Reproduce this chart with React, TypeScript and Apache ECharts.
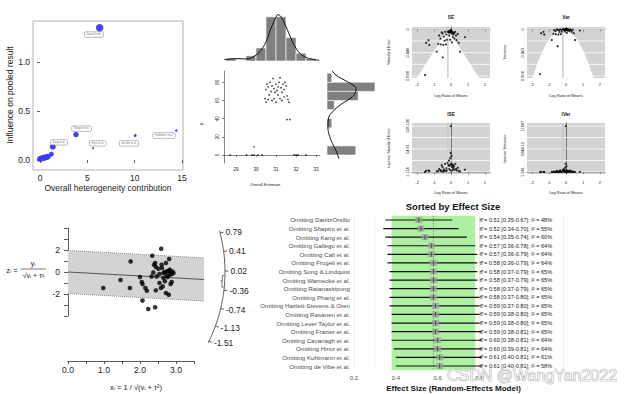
import React, { useEffect, useRef } from "react";
import * as echarts from "echarts";

const FONT = "'Liberation Sans', Arial, Helvetica, sans-serif";
const INK = "#222222";

// ---------- Panel 1: influence vs heterogeneity ----------
const baujatHet = [6.3, 3.8, 1.35, 1.2, 0.0, 0.12, 0.25, 0.4, 0.55, 0.7, 0.85, 5.6, 10.05, 14.4];
const baujatInfl = [1.35, 0.26, 0.135, 0.06, 0.01, 0.014, 0.018, 0.022, 0.026, 0.03, 0.035, 0.12, 0.25, 0.3];
const baujatWeight = [7.5, 5.5, 6, 5, 6, 6, 6, 6, 6, 6, 5.5, 2, 3, 2.5];
const baujatLabelHet = [5.7, 4.4, 2.0, 6.1, 9.4, 13.1];
const baujatLabelInfl = [1.28, 0.32, 0.18, 0.17, 0.17, 0.25];
const baujatLabelText = ["DanitzOrsillo", "Shapiro et al.", "Kang et al.", "Hintz et al.", "de Vibe et al.", "Kuhlmann et al."];
const baujatXTicks = [0, 5, 10, 15];
const baujatYTicks = [0, 0.5, 1.0];

// ---------- Panel 2: GOSH (estimate vs I²) ----------
const goshEst = [28.7, 29.53, 29.8, 29.9, 30.1, 30.3, 31.9, 32.0, 32.1, 32.5, 29.9, 31.55, 31.7,
  30.55, 30.6, 30.5, 30.45, 30.5, 30.7, 30.75, 30.8, 30.85, 30.9, 30.95, 30.9, 30.8, 31.0, 31.05, 31.1, 31.0, 31.15, 31.2,
  31.25, 31.3, 31.2, 31.35, 31.4, 31.45, 31.5, 31.55, 31.6, 31.65, 31.3, 30.65, 31.1, 30.6, 31.4];
const goshI2 = [0, 0, 0, 0, 0, 0, 0, 0, 0, 0, 9, 39, 39,
  78, 75, 72, 62, 58, 80, 70, 76, 84, 73, 69, 62, 60, 78, 71, 66, 58, 80, 85,
  74, 69, 62, 78, 72, 80, 76, 65, 61, 58, 60, 66, 75, 61, 64];
const goshXTicks = [29, 30, 31, 32, 33];
const goshYTicks = [0, 20, 40, 60, 80];
const estBinLo = [28.5, 29, 29.5, 30, 30.5, 31, 31.5, 32, 32.5];
const estBinHi = [29, 29.5, 30, 30.5, 31, 31.5, 32, 32.5, 33];
const estBinCount = [1, 0, 2, 5, 17, 17, 9, 3, 1];
const estDensX = [28.4, 28.5, 29.0, 29.5, 30.0, 30.25, 30.5, 30.75, 31.0, 31.1, 31.25, 31.5, 31.75, 32.0, 32.25, 32.5, 32.75, 33.0, 33.15];
const estDensY = [0.55, 0.64, 0.9, 0.8, 2.3, 4.2, 7.4, 12.6, 16.8, 17.8, 17.0, 13.2, 8.7, 4.9, 2.6, 1.4, 0.8, 0.4, 0.3];
const i2BinLo = [0, 30, 50, 60, 70, 80];
const i2BinHi = [10, 40, 60, 70, 80, 90];
const i2BinCount = [12, 2, 3, 13, 20, 2];
const i2DensI2 = [94, 88, 81.5, 77, 73, 68, 63, 55.6, 48, 40.7, 31.5, 20.4, 9.3, 1.9, -4];
const i2DensVal = [1.8, 3.75, 7.9, 10.8, 12.1, 11.7, 10.0, 5.8, 2.5, 0.7, 0.4, 1.1, 2.9, 4.2, 4.9];

// ---------- Panel 3: funnel plots ----------
const studyLRM = [-1.53, -1.47, -1.33, -1.28, -0.84, -0.49, 0.53, 0.82, 0.33,
  -0.75, -0.6, -0.45, -0.3, -0.7, -0.62, -0.5, -0.42, -0.35, -0.28,
  -0.2, -0.15, -0.1, -0.05, 0.0, 0.02, 0.05, 0.08, 0.1, 0.12,
  0.15, 0.2, 0.25, 0.3, 0.4, -0.25, -0.05, 0.05, -0.12, 0.0,
  0.03, -0.1, 0.18, -0.38, 0.45, -0.55, 0.1, -0.02, -0.08];
const studySE = [0.88, 0.26, 0.21, 0.3, 0.43, 0.54, 0.43, 0.15, 0.21,
  0.28, 0.29, 0.3, 0.29, 0.12, 0.18, 0.08, 0.14, 0.05, 0.1,
  0.045, 0.06, 0.12, 0.03, 0.00925, 0.05, 0.08, 0.055, 0.15, 0.06,
  0.1, 0.18, 0.05, 0.12, 0.09, 0.2, 0.2, 0.25, 0.036, 0.05,
  0.026, 0.06, 0.07, 0.22, 0.26, 0.06, 0.065, 0.022, 0.065];
const funnelCenter = -0.18;
const funnelXTicks = [-2, -1, 0, 1, 2];
const seTicks = [0, 0.449, 0.898];
const varTicks = [0, 0.403, 0.806];
const iseTicks = [1.114, 54.61, 108.106];
const ivarTicks = [1.241, 5844.12, 11687];

// ---------- Panel 4: radial (Galbraith) plot ----------
const radialX = [0.98, 1.46, 1.74, 1.72, 2.0, 2.05, 2.07, 2.15, 2.19, 2.07, 2.23, 2.42, 2.34, 2.39, 2.42, 2.32,
  2.37, 2.46, 2.44, 2.54, 2.59, 2.6, 2.61, 2.54, 2.65, 2.63, 2.58, 2.69, 2.72, 2.74, 2.74, 2.72,
  2.81, 2.79, 2.83, 2.85, 2.88, 2.9, 2.83, 2.8, 2.85, 2.88, 2.77, 2.69, 2.93, 2.65, 2.51, 2.44];
const radialZ = [-1.45, -0.73, 0.96, -1.45, -0.45, -0.91, -1.1, -1.45, -1.7, -2.6, -3.36, -3.21, 1.48, 0.66, 0.82, -0.4,
  -0.04, -0.4, -1.67, -1.0, 2.12, 0.66, 0.36, -0.18, -0.55, -1.31, -1.45, -0.85, 0.82, 0.05, -0.31, -1.91,
  1.18, 0.12, 0.21, -0.04, -0.18, 0.05, -0.25, -2.06, -1.09, -0.91, -0.45, 0.0, -0.1, -0.1, 0.3, 0.45];
const radialSlope = -0.18;
const radialCI = [-0.3, -0.07];
const radialArcTicks = [0.79, 0.41, 0.02, -0.36, -0.74, -1.13, -1.51];
const radialBandEnd = 3.78;

// ---------- Panel 5: leave-one-out forest ----------
const forestStudy = ["DanitzOrsillo", "Shapiro et al.", "Kang et al.", "Gallego et al.", "Call et al.", "Frogeli et al.",
  "Song & Lindquist", "Warnecke et al.", "Ratanasiripong", "Phang et al.", "Hazlett-Stevens & Oren", "Rasanen et al.",
  "Lever Taylor et al.", "Frazier et al.", "Cavanagh et al.", "Hintz et al.", "Kuhlmann et al.", "de Vibe et al."];
const forestEst = [0.51, 0.52, 0.54, 0.57, 0.57, 0.58, 0.58, 0.58, 0.58, 0.58, 0.59, 0.59, 0.59, 0.59, 0.6, 0.6, 0.61, 0.61];
const forestLo = [0.35, 0.34, 0.35, 0.36, 0.36, 0.36, 0.37, 0.37, 0.37, 0.37, 0.37, 0.38, 0.38, 0.38, 0.38, 0.39, 0.4, 0.4];
const forestHi = [0.67, 0.7, 0.74, 0.78, 0.79, 0.79, 0.79, 0.79, 0.79, 0.8, 0.8, 0.8, 0.8, 0.81, 0.81, 0.81, 0.81, 0.81];
const forestI2 = [48, 55, 60, 64, 64, 64, 65, 65, 65, 65, 65, 65, 65, 65, 64, 64, 61, 58];
const forestPooled = 0.58;
const forestBand = [0.38, 0.78];

function lin(vA: number, pA: number, vB: number, pB: number, p: number) {
  return vA + ((p - pA) * (vB - vA)) / (pB - pA);
}
function quarters(t: number[]) {
  return [t[0], (t[0] + t[1]) / 2, t[1], (t[1] + t[2]) / 2, t[2]];
}

function axisR(gridIndex: number, min: number, max: number, ticks: number[] | null, o: any = {}) {
  return {
    gridIndex, type: "value", min, max, inverse: !!o.inverse, interval: o.interval,
    axisLine: { show: o.line !== false, lineStyle: { color: "#333", width: o.lineWidth || 0.6 } },
    axisTick: { show: true, customValues: ticks || undefined, length: o.tickLen || 2, lineStyle: { color: "#333", width: o.lineWidth || 0.6 } },
    axisLabel: {
      customValues: ticks || undefined, fontSize: o.fontSize || 4, color: INK, fontFamily: FONT,
      margin: o.margin || 3, rotate: o.rotate || 0, formatter: o.fmt,
    },
    splitLine: { show: false },
  };
}
function axisHidden(gridIndex: number, min: number, max: number) {
  return { gridIndex, type: "value", min, max, show: false, splitLine: { show: false } };
}

function txt(x: number, y: number, text: string, size: number, o: any = {}) {
  return {
    type: "text", x, y, rotation: o.rotation || 0, silent: true, z: 100,
    style: {
      text, fontSize: size, fontFamily: FONT, fill: o.fill || INK, fontWeight: o.bold ? "bold" : "normal",
      align: o.align || "center", verticalAlign: "middle", stroke: o.stroke, lineWidth: o.lineWidth,
    },
  };
}

function funnelBg(idx: number, yMax: number, levels: number[], toY: (s: number) => number, seFrom: number, seTo: number, geometric: boolean) {
  return {
    type: "custom", xAxisIndex: idx, yAxisIndex: idx, silent: true, z: 1,
    data: [[0, toY(seFrom)]],
    renderItem: (params: any, api: any) => {
      const cs = params.coordSys;
      const children: any[] = [];
      levels.forEach((l) => {
        const p = api.coord([0, l]);
        children.push({ type: "line", shape: { x1: cs.x, y1: p[1], x2: cs.x + cs.width, y2: p[1] }, style: { stroke: "#ffffff", lineWidth: 0.8 } });
      });
      const n = 60;
      const left: number[][] = [];
      const right: number[][] = [];
      for (let i = 0; i <= n; i++) {
        const t = i / n;
        const se = geometric ? seFrom * Math.pow(seTo / seFrom, t) : seFrom + (seTo - seFrom) * t;
        const y = toY(se);
        left.push(api.coord([funnelCenter - 1.96 * se, y]));
        right.push(api.coord([funnelCenter + 1.96 * se, y]));
      }
      children.push({ type: "polygon", shape: { points: left.concat(right.reverse()) }, style: { fill: "#ffffff" } });
      const cx = api.coord([funnelCenter, toY(seFrom)])[0];
      children.push({ type: "line", shape: { x1: cx, y1: cs.y, x2: cx, y2: cs.y + cs.height }, style: { stroke: "#b5b5b5", lineWidth: 1 } });
      return { type: "group", children };
    },
  };
}

function buildOption() {
  const bxMin = lin(0, 40, 15, 182, 33), bxMax = lin(0, 40, 15, 182, 183);
  const byMin = lin(0, 160, 1, 62, 170), byMax = lin(0, 160, 1, 62, 21);
  const gxMin = lin(29, 236, 33, 316, 224), gxMax = lin(29, 236, 33, 316, 320);
  const gyMin = lin(0, 155, 80, 82.3, 163), gyMax = lin(0, 155, 80, 82.3, 71);
  const seMin = lin(0, 29.3, 0.898, 76, 27), seMax = lin(0, 29.3, 0.898, 76, 78);
  const vaMin = lin(0, 29.3, 0.806, 76, 27), vaMax = lin(0, 29.3, 0.806, 76, 78);
  const isMin = lin(1.114, 172, 108.106, 126, 174), isMax = lin(1.114, 172, 108.106, 126, 123);
  const ivMin = lin(1.241, 172, 11687, 126, 174), ivMax = lin(1.241, 172, 11687, 126, 123);

  const fx = (i: number) => axisR(i, -2.3, 2.3, funnelXTicks, { fontSize: 3.9, margin: i >= 6 ? 6 : 4.5 });
  const fy = (i: number, mn: number, mx: number, ticks: number[], inv: boolean) =>
    axisR(i, mn, mx, ticks, { inverse: inv, rotate: 90, fontSize: 3.9, margin: 3, fmt: (v: number) => String(v) });

  const grid = [
    { left: 33, top: 21, width: 150, height: 149, show: true, borderColor: "#a0a0a0", borderWidth: 0.8, backgroundColor: "transparent" },
    { left: 224, top: 71, width: 96, height: 92 },
    { left: 224, top: 9, width: 96, height: 52 },
    { left: 327, top: 71, width: 50.4, height: 92 },
    { left: 412, top: 27, width: 78, height: 51, show: true, backgroundColor: "#d3d3d3", borderWidth: 0 },
    { left: 527, top: 27, width: 78, height: 51, show: true, backgroundColor: "#d3d3d3", borderWidth: 0 },
    { left: 412, top: 123, width: 78, height: 51, show: true, backgroundColor: "#d3d3d3", borderWidth: 0 },
    { left: 527, top: 123, width: 78, height: 51, show: true, backgroundColor: "#d3d3d3", borderWidth: 0 },
    { left: 68, top: 226, width: 170, height: 126 },
    { left: 68, top: 228, width: 10, height: 88 },
    { left: 68, top: 320, width: 126, height: 41 },
    { left: 354, top: 215.7, width: 209, height: 154.6 },
  ].map((g) => ({ containLabel: false, ...g }));

  const xAxis: any[] = [
    axisR(0, bxMin, bxMax, baujatXTicks, { line: false, tickLen: 3, fontSize: 8.5, margin: 3, lineWidth: 0.8 }),
    axisR(1, gxMin, gxMax, goshXTicks, { fontSize: 4.5, margin: 4 }),
    axisHidden(2, gxMin, gxMax),
    axisHidden(3, 0, 21),
    fx(4), fx(5), fx(6), fx(7),
    axisHidden(8, 0, 170 / 36),
    axisHidden(9, 0, 1),
    axisR(10, 0, 3.5, null, { interval: 0.5, tickLen: 3, fontSize: 8.5, margin: 4, lineWidth: 0.8, fmt: (v: number) => (Math.abs(v - Math.round(v)) < 1e-9 ? v.toFixed(1) : "") }),
    {
      gridIndex: 11, type: "value", min: 0.2, max: 1.2, interval: 0.2,
      axisLine: { show: false }, axisTick: { show: false },
      axisLabel: { fontSize: 6, color: "#4d4d4d", fontFamily: FONT, margin: 5, formatter: (v: number) => (v > 1.05 ? "" : v.toFixed(1)) },
      splitLine: { show: true, lineStyle: { color: "#e4e4e4", width: 0.6 } },
      minorTick: { show: false, splitNumber: 2 },
      minorSplitLine: { show: true, lineStyle: { color: "#f2f2f2", width: 0.5 } },
    },
  ];
  const yAxis: any[] = [
    axisR(0, byMin, byMax, baujatYTicks, { line: false, tickLen: 3, fontSize: 8.5, margin: 3, lineWidth: 0.8, fmt: (v: number) => v.toFixed(1) }),
    axisR(1, gyMin, gyMax, goshYTicks, { rotate: 90, fontSize: 4.5, margin: 4 }),
    axisHidden(2, 0, 20),
    axisHidden(3, gyMin, gyMax),
    fy(4, seMin, seMax, seTicks, true),
    fy(5, vaMin, vaMax, varTicks, true),
    fy(6, isMin, isMax, iseTicks, false),
    fy(7, ivMin, ivMax, ivarTicks, false),
    axisHidden(8, -80 / 11, 46 / 11),
    axisR(9, -4, 4, null, { interval: 1, tickLen: 4, fontSize: 8.5, margin: 8, lineWidth: 0.8, fmt: (v: number) => (v === 2 || v === 0 || v === -2 ? String(v) : "") }),
    axisHidden(10, 0, 1),
    {
      gridIndex: 11, type: "category", inverse: true, data: forestStudy.map((s) => "Omitting " + s),
      axisLine: { show: false }, axisTick: { show: false }, splitLine: { show: false },
      axisLabel: { interval: 0, fontSize: 6.2, color: "#4d4d4d", fontFamily: FONT, margin: 4 },
    },
  ];

  const series: any[] = [];

  series.push({
    type: "scatter", xAxisIndex: 0, yAxisIndex: 0, silent: true, z: 3,
    data: baujatHet.map((x, i) => [x, baujatInfl[i], baujatWeight[i]]),
    symbolSize: (v: number[]) => v[2],
    itemStyle: { color: "#3a3af2", opacity: 0.95 },
  });
  series.push({
    type: "scatter", xAxisIndex: 0, yAxisIndex: 0, silent: true, z: 4, symbolSize: 0.01,
    data: baujatLabelHet.map((x, i) => ({ value: [x, baujatLabelInfl[i]], name: baujatLabelText[i] })),
    itemStyle: { color: "transparent" },
    label: {
      show: true, position: "inside", formatter: "{b}", fontSize: 2.6, color: "#444", fontFamily: FONT,
      backgroundColor: "#ffffff", borderColor: "#777", borderWidth: 0.5, padding: [1, 2], borderRadius: 1,
    },
  });

  series.push({
    type: "scatter", xAxisIndex: 1, yAxisIndex: 1, silent: true, symbolSize: 1.6,
    data: goshEst.map((x, i) => [x, goshI2[i]]), itemStyle: { color: "#000" },
  });
  series.push({
    type: "custom", xAxisIndex: 2, yAxisIndex: 2, silent: true,
    data: estBinLo.map((lo, i) => [lo, estBinHi[i], estBinCount[i]]),
    renderItem: (p: any, api: any) => {
      const a = api.coord([api.value(0), api.value(2)]);
      const b = api.coord([api.value(1), 0]);
      return { type: "rect", shape: { x: a[0], y: a[1], width: b[0] - a[0], height: b[1] - a[1] }, style: { fill: "#7f7f7f", stroke: "#ffffff", lineWidth: 0.6 } };
    },
  });
  series.push({
    type: "line", xAxisIndex: 2, yAxisIndex: 2, silent: true, smooth: true, showSymbol: false, z: 3,
    data: estDensX.map((x, i) => [x, estDensY[i]]), lineStyle: { color: "#111", width: 1 },
  });
  series.push({
    type: "custom", xAxisIndex: 3, yAxisIndex: 3, silent: true,
    data: i2BinLo.map((lo, i) => [lo, i2BinHi[i], i2BinCount[i]]),
    renderItem: (p: any, api: any) => {
      const a = api.coord([0, api.value(1)]);
      const b = api.coord([api.value(2), api.value(0)]);
      return { type: "rect", shape: { x: a[0], y: a[1], width: b[0] - a[0], height: b[1] - a[1] }, style: { fill: "#7f7f7f", stroke: "#ffffff", lineWidth: 0.6 } };
    },
  });
  series.push({
    type: "line", xAxisIndex: 3, yAxisIndex: 3, silent: true, smooth: true, showSymbol: false, z: 3,
    data: i2DensI2.map((y, i) => [i2DensVal[i], y]), lineStyle: { color: "#111", width: 1 },
  });

  series.push(funnelBg(4, seMax, quarters(seTicks), (s) => s, seMax, 0, false));
  series.push(funnelBg(5, vaMax, quarters(varTicks), (s) => s * s, Math.sqrt(vaMax), 0, false));
  series.push(funnelBg(6, isMax, quarters(iseTicks), (s) => 1 / s, 1 / iseTicks[0], 1 / isMax, true));
  series.push(funnelBg(7, ivMax, quarters(ivarTicks), (s) => 1 / (s * s), 1 / Math.sqrt(ivarTicks[0]), 1 / Math.sqrt(ivMax), true));
  const fPts = (i: number, f: (s: number) => number) => ({
    type: "scatter", xAxisIndex: i, yAxisIndex: i, silent: true, z: 3, symbolSize: 2.2,
    data: studyLRM.map((x, k) => [x, f(studySE[k])]), itemStyle: { color: "#000" },
  });
  series.push(fPts(4, (s) => s), fPts(5, (s) => s * s), fPts(6, (s) => 1 / s), fPts(7, (s) => 1 / (s * s)));

  series.push({
    type: "custom", xAxisIndex: 8, yAxisIndex: 8, silent: true, z: 1, data: [[0, 0]],
    renderItem: (p: any, api: any) => {
      const c = (x: number, y: number) => api.coord([x, y]);
      const e = radialBandEnd;
      const t0 = c(0, 1.96), t1 = c(e, radialSlope * e + 1.96), b1 = c(e, radialSlope * e - 1.96), b0 = c(0, -1.96);
      const m0 = c(0, 0), m1 = c(e, radialSlope * e);
      return {
        type: "group", children: [
          { type: "polygon", shape: { points: [t0, t1, b1, b0] }, style: { fill: "#d3d3d3" } },
          { type: "line", shape: { x1: t0[0], y1: t0[1], x2: t1[0], y2: t1[1] }, style: { stroke: "#8a8a8a", lineWidth: 1, lineDash: [1, 1] } },
          { type: "line", shape: { x1: b0[0], y1: b0[1], x2: b1[0], y2: b1[1] }, style: { stroke: "#8a8a8a", lineWidth: 1, lineDash: [1, 1] } },
          { type: "line", shape: { x1: m0[0], y1: m0[1], x2: m1[0], y2: m1[1] }, style: { stroke: "#555", lineWidth: 1 } },
        ],
      };
    },
  });
  series.push({
    type: "custom", xAxisIndex: 8, yAxisIndex: 8, silent: true, z: 2, data: [[0, 0]],
    renderItem: (p: any, api: any) => {
      const o = api.coord([0, 0]);
      const ux = api.coord([1, 0])[0] - o[0];
      const uy = o[1] - api.coord([0, 1])[1];
      const k = 1.06;
      const ang = (b: number) => Math.atan2(b * uy * k, ux);
      const R = 157;
      const P = (a: number, r: number) => [o[0] + r * Math.cos(a), o[1] - r * Math.sin(a)];
      const a0 = ang(0.84), a1 = ang(-1.56);
      const pts: number[][] = [];
      for (let i = 0; i <= 60; i++) pts.push(P(a0 + ((a1 - a0) * i) / 60, R));
      const ch: any[] = [{ type: "polyline", shape: { points: pts }, style: { stroke: "#333", lineWidth: 0.8, fill: null } }];
      radialArcTicks.forEach((b) => {
        const a = ang(b);
        const p1 = P(a, R), p2 = P(a, R + 3.5), pl = P(a, R + 5.5);
        ch.push({ type: "line", shape: { x1: p1[0], y1: p1[1], x2: p2[0], y2: p2[1] }, style: { stroke: "#333", lineWidth: 0.8 } });
        ch.push({ type: "text", x: pl[0], y: pl[1], style: { text: b.toFixed(2), fontSize: 8.5, fontFamily: FONT, fill: INK, align: "left", verticalAlign: "middle" } });
      });
      const c0 = ang(radialCI[1]), c1 = ang(radialCI[0]);
      const cp: number[][] = [P(c0, R - 0.5)];
      for (let i = 0; i <= 8; i++) cp.push(P(c0 + ((c1 - c0) * i) / 8, R - 2.5));
      cp.push(P(c1, R - 0.5));
      ch.push({ type: "polyline", shape: { points: cp }, style: { stroke: "#333", lineWidth: 0.7, fill: null } });
      const am = ang(radialSlope);
      const q1 = P(am, R - 2.5), q2 = P(am, R - 4.5);
      ch.push({ type: "line", shape: { x1: q1[0], y1: q1[1], x2: q2[0], y2: q2[1] }, style: { stroke: "#333", lineWidth: 0.7 } });
      return { type: "group", children: ch };
    },
  });
  series.push({
    type: "scatter", xAxisIndex: 8, yAxisIndex: 8, silent: true, z: 3, symbolSize: 4.6,
    data: radialX.map((x, i) => [x, radialZ[i]]), itemStyle: { color: "#000" },
  });

  series.push({
    type: "custom", xAxisIndex: 11, yAxisIndex: 11, silent: true, z: 1, data: [[forestBand[0], 0]],
    renderItem: (p: any, api: any) => {
      const cs = p.coordSys;
      const xa = api.coord([forestBand[0], 0])[0], xb = api.coord([forestBand[1], 0])[0];
      const xp = api.coord([forestPooled, 0])[0];
      return {
        type: "group", children: [
          { type: "rect", shape: { x: xa, y: cs.y, width: xb - xa, height: cs.height }, style: { fill: "#aef0a2" } },
          { type: "line", shape: { x1: xp, y1: cs.y, x2: xp, y2: cs.y + cs.height }, style: { stroke: "#555", lineWidth: 0.7, lineDash: [1, 1.5] } },
        ],
      };
    },
  });
  series.push({
    type: "custom", xAxisIndex: 11, yAxisIndex: 11, silent: true, z: 2,
    data: forestEst.map((e, i) => [i, e, forestLo[i], forestHi[i]]),
    encode: { x: 1, y: 0 },
    renderItem: (p: any, api: any) => {
      const row = api.value(0);
      const lo = api.coord([api.value(2), row]);
      const hi = api.coord([api.value(3), row]);
      const es = api.coord([api.value(1), row]);
      return {
        type: "group", children: [
          { type: "line", shape: { x1: lo[0], y1: lo[1], x2: hi[0], y2: hi[1] }, style: { stroke: "#111", lineWidth: 1.2 } },
          { type: "rect", shape: { x: es[0] - 3.5, y: es[1] - 3, width: 7, height: 6 }, style: { fill: "rgba(160,160,160,0.75)" } },
          { type: "line", shape: { x1: es[0], y1: es[1] - 2.5, x2: es[0], y2: es[1] + 2.5 }, style: { stroke: "#333", lineWidth: 0.8 } },
        ],
      };
    },
  });
  series.push({
    type: "custom", xAxisIndex: 11, yAxisIndex: 11, silent: true, z: 3,
    data: forestEst.map((e, i) => [0.8, i]),
    renderItem: (p: any, api: any) => {
      const i = p.dataIndex;
      const pt = api.coord([api.value(0), api.value(1)]);
      const t = "θ̂ = " + forestEst[i].toFixed(2) + " [" + forestLo[i].toFixed(2) + "-" + forestHi[i].toFixed(2) + "]; I² = " + forestI2[i] + "%";
      return { type: "text", x: pt[0], y: pt[1], style: { text: t, fontSize: 5.6, fontFamily: FONT, fill: INK, align: "left", verticalAlign: "middle" } };
    },
  });

  const graphic: any[] = [
    txt(10, 95, "Influence on pooled result", 8.5, { rotation: Math.PI / 2 }),
    txt(108, 188, "Overall heterogeneity contribution", 8.5),
    txt(202, 124, "I²", 5, { rotation: Math.PI / 2 }),
    txt(265, 184, "Overall Estimate", 4.2),
    txt(451, 17, "SE", 4.8, { bold: true }),
    txt(566, 17, "Var", 4.8, { bold: true }),
    txt(451, 114, "ISE", 4.8, { bold: true }),
    txt(566, 114, "IVar", 4.8, { bold: true }),
    txt(451, 95, "Log Ratio of Means", 3.9),
    txt(566, 95, "Log Ratio of Means", 3.9),
    txt(451, 192, "Log Ratio of Means", 3.9),
    txt(566, 192, "Log Ratio of Means", 3.9),
    txt(388, 52, "Standard Error", 3.9, { rotation: Math.PI / 2 }),
    txt(504, 52, "Variance", 3.9, { rotation: Math.PI / 2 }),
    txt(388, 148, "Inverse Standard Error", 3.9, { rotation: Math.PI / 2 }),
    txt(504, 149, "Inverse Variance", 3.9, { rotation: Math.PI / 2 }),
    txt(12, 270, "zᵢ =", 7.5),
    txt(33, 263.5, "yᵢ", 7),
    { type: "line", silent: true, z: 100, shape: { x1: 20.5, y1: 269, x2: 46, y2: 269 }, style: { stroke: INK, lineWidth: 0.6 } },
    txt(33.5, 275.5, "√vᵢ + τ²", 7),
    txt(136, 387, "xᵢ = 1 / √(vᵢ + τ²)", 7.5),
    txt(453, 206, "Sorted by Effect Size", 9.5, { bold: true, fill: "#111" }),
    txt(453.5, 388, "Effect Size (Random-Effects Model)", 8, { bold: true, fill: "#111" }),
    txt(532, 375, "CSDN @WangYan2022", 16, { fill: "rgba(255,255,255,0.7)", stroke: "#9a9a9a", lineWidth: 0.7 }),
  ];

  return { animation: false, backgroundColor: "#ffffff", grid, xAxis, yAxis, series, graphic };
}

export default function App() {
  const ref = useRef<HTMLDivElement>(null);
  useEffect(() => {
    if (!ref.current) return;
    const chart = echarts.init(ref.current, null, { renderer: "svg" });
    chart.setOption(buildOption() as any);
    return () => chart.dispose();
  }, []);
  return <div ref={ref} style={{ position: "fixed", left: 0, top: 0, width: 632, height: 394, background: "#fff" }} />;
}
